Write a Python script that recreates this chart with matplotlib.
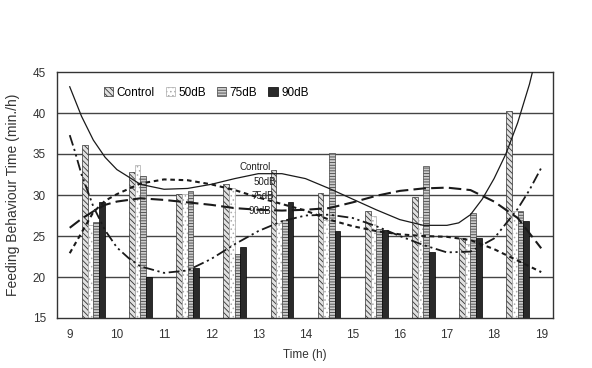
import matplotlib
matplotlib.use("Agg")
import matplotlib.pyplot as plt
import numpy as np

plt.rcParams['font.family'] = ['Liberation Sans', 'DejaVu Sans']
plt.rcParams['hatch.linewidth'] = 0.6

# ---- data ----
hours = [9.5, 10.5, 11.5, 12.5, 13.5, 14.5, 15.5, 16.5, 17.5, 18.5]
tick_labels = ['9', '10', '11', '12', '13', '14', '15', '16', '17', '18', '19']
control = [36.1, 32.8, 30.1, 31.4, 33.0, 30.3, 28.0, 29.8, 24.7, 40.2]
db50 = [26.4, 33.6, 30.1, 30.8, 26.6, 27.0, 27.5, 27.3, 24.0, 28.0]
db75 = [26.7, 32.3, 30.5, 22.8, 27.0, 35.1, 25.8, 33.5, 27.8, 28.1]
db90 = [29.1, 20.0, 21.1, 23.6, 29.1, 25.6, 25.7, 23.0, 24.8, 26.8]

# trend curves
ctrl_x = [9.0, 9.25, 9.5, 9.75, 10.0, 10.5, 11.0, 11.5, 12.0, 12.5, 13.0, 13.5, 14.0,
          14.5, 15.0, 15.5, 16.0, 16.5, 17.0, 17.25, 17.5, 17.75, 18.0, 18.25, 18.5,
          18.75, 18.9]
ctrl_y = [43.2, 39.6, 36.7, 34.6, 33.1, 31.3, 30.7, 30.8, 31.3, 32.0, 32.6, 32.6, 32.0,
          30.8, 29.5, 28.2, 27.0, 26.3, 26.3, 26.6, 27.6, 29.5, 32.0, 35.0, 38.8,
          43.5, 47.0]
c50_x = [9.0, 9.25, 9.5, 9.75, 10.0, 10.5, 11.0, 11.5, 12.0, 12.5, 13.0, 13.5, 14.0,
         14.5, 15.0, 15.5, 16.0, 16.5, 17.0, 17.5, 18.0, 18.5, 19.0]
c50_y = [22.9, 25.4, 27.9, 29.3, 30.1, 31.4, 31.9, 31.8, 31.3, 30.6, 29.7, 28.9, 28.1,
         27.0, 26.2, 25.6, 25.2, 25.0, 24.9, 24.5, 23.4, 22.0, 20.6]
c75_x = [9.0, 9.25, 9.5, 9.75, 10.0, 10.5, 11.0, 11.5, 12.0, 12.5, 13.0, 13.5, 14.0,
         14.5, 15.0, 15.5, 16.0, 16.5, 17.0, 17.5, 18.0, 18.5, 19.0]
c75_y = [26.0, 27.1, 28.0, 28.8, 29.2, 29.6, 29.4, 29.1, 28.8, 28.4, 28.2, 28.1, 28.2,
         28.4, 29.1, 29.9, 30.5, 30.8, 30.9, 30.6, 29.2, 27.2, 23.5]
c90_x = [9.0, 9.1, 9.25, 9.5, 9.75, 10.0, 10.25, 10.5, 11.0, 11.5, 12.0, 12.5, 13.0,
         13.5, 14.0, 14.5, 15.0, 15.5, 16.0, 16.5, 17.0, 17.5, 18.0, 18.5, 18.75, 19.0]
c90_y = [37.3, 35.5, 32.5, 28.6, 25.7, 23.6, 22.3, 21.3, 20.5, 20.8, 22.2, 24.0, 25.6,
         26.8, 27.5, 27.6, 27.2, 26.2, 25.0, 23.9, 23.0, 23.1, 24.7, 28.3, 30.6, 33.3]

series_names = ['Control', '50dB', '75dB', '90dB']

fig = plt.figure(figsize=(5.92, 3.68), dpi=100)
ax = fig.add_axes([57/592, 50/368, 496/592, 246/368])

ax.set_xlim(8.73, 19.25)
ax.set_ylim(15, 45)
ax.set_yticks([15, 20, 25, 30, 35, 40, 45])
ax.set_xticks(np.arange(9, 20))
ax.set_xticklabels(tick_labels)
ax.tick_params(length=0, labelsize=8.5, colors='#333333', pad=8)
for y in [20, 25, 30, 35, 40]:
    ax.axhline(y, color='#444444', lw=1.0, zorder=1)
for s in ax.spines.values():
    s.set_color('#333333')
    s.set_linewidth(1.0)

w = 0.12
offs = [-0.18, -0.06, 0.06, 0.18]
styles = [
    dict(facecolor='#e0e0e0', hatch='\\\\\\\\\\\\', edgecolor='#333333'),
    dict(facecolor='white', hatch='....', edgecolor='#aaaaaa'),
    dict(facecolor='#cccccc', hatch='------', edgecolor='#444444'),
    dict(facecolor='#2a2a2a', hatch='', edgecolor='#000000'),
]
handles = []
for vals, off, st, name in zip([control, db50, db75, db90], offs, styles, series_names):
    bars = ax.bar(np.array(hours) + off, np.array(vals) - 15, w, bottom=15,
                  facecolor=st['facecolor'], hatch=st['hatch'], edgecolor=st['edgecolor'],
                  linewidth=0.5, zorder=2, label=name)
    handles.append(bars)

ax.plot(ctrl_x, ctrl_y, color='#1a1a1a', lw=0.9, zorder=4)
ax.plot(c50_x, c50_y, color='#1a1a1a', lw=1.5, dashes=(2.2, 1.8), zorder=4)
ax.plot(c75_x, c75_y, color='#1a1a1a', lw=1.5, dashes=(6, 2.5), zorder=4)
ax.plot(c90_x, c90_y, color='#1a1a1a', lw=1.3, dashes=(6, 2, 1.2, 2, 1.2, 2), zorder=4)

ax.text(12.93, 33.4, 'Control', fontsize=7, ha='center', va='center', zorder=5, color='#222222')
ax.text(13.14, 31.6, '50dB', fontsize=7, ha='center', va='center', zorder=5, color='#222222')
ax.text(13.10, 29.9, '75dB', fontsize=7, ha='center', va='center', zorder=5, color='#222222')
ax.text(13.03, 28.0, '90dB', fontsize=7, ha='center', va='center', zorder=5, color='#222222')

leg = ax.legend(handles=handles, labels=series_names, ncol=4, loc='center left',
                bbox_to_anchor=(0.085, 0.915), frameon=False, fontsize=8.5,
                handlelength=0.8, handleheight=0.8, handletextpad=0.3,
                columnspacing=0.9, borderaxespad=0)
leg.set_zorder(6)

ax.set_ylabel('Feeding Behaviour Time (min./h)', fontsize=10, color='#333333', labelpad=9)
ax.set_xlabel('Time (h)', fontsize=8.5, color='#333333', labelpad=6)

fig.savefig('out.png', dpi=100)
